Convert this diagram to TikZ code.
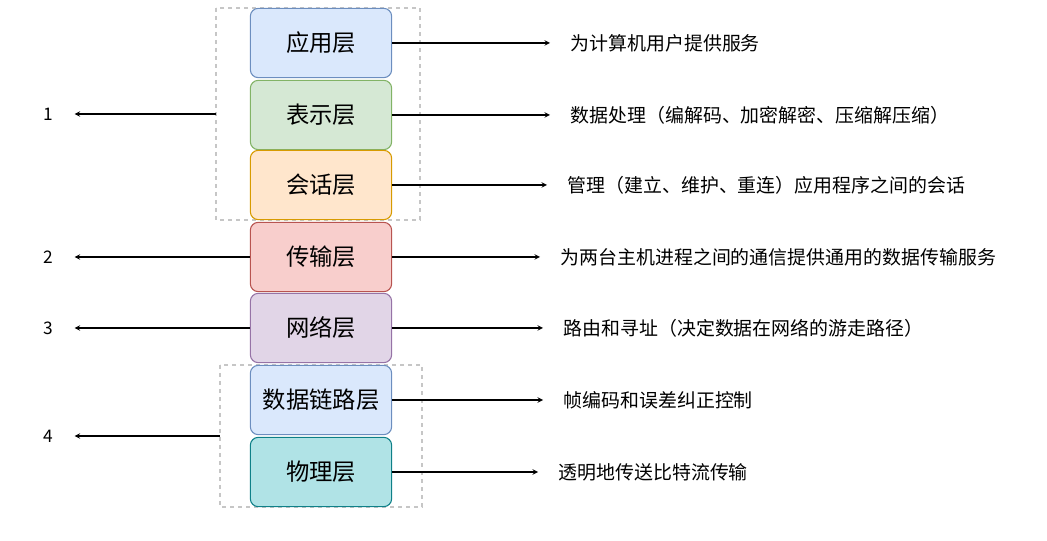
\documentclass[tikz,border=0pt]{standalone}
\usepackage{fontspec}
\setmainfont{Noto Sans CJK SC}
\usetikzlibrary{positioning}
\definecolor{bluef}{HTML}{DAE8FC}\definecolor{blued}{HTML}{6C8EBF}
\definecolor{greenf}{HTML}{D5E8D4}\definecolor{greend}{HTML}{82B366}
\definecolor{orangef}{HTML}{FFE6CC}\definecolor{oranged}{HTML}{D79B00}
\definecolor{redf}{HTML}{F8CECC}\definecolor{redd}{HTML}{B85450}
\definecolor{purplef}{HTML}{E1D5E7}\definecolor{purpled}{HTML}{9673A6}
\definecolor{tealf}{HTML}{B0E3E6}\definecolor{teald}{HTML}{0E8088}
\tikzset{
  layer/.style={draw, rounded corners=6pt, minimum width=106pt, minimum height=52pt, font=\fontsize{17.5}{19}\selectfont, inner sep=1pt},
  group/.style={draw=gray!45, dashed, line width=1.4pt},
  desc/.style={anchor=west, font=\fontsize{14.2}{16}\selectfont, inner sep=0pt},
  num/.style={font=\fontsize{13}{15}\selectfont, inner sep=0pt}
}
\begin{document}
\begin{tikzpicture}[x=0.75pt, y=-0.75pt, ->, >=stealth, thick]
\useasboundingbox (0,0) rectangle (1047,541);
% 分组
\draw[group, -] (216,8) rectangle (420,220);
\draw[group, -] (220,365) rectangle (422,507);
% 各层
\node[layer, fill=bluef, draw=blued] (app) at (321,43) {应用层};
\node[layer, fill=greenf, draw=greend] (pre) at (321,115) {表示层};
\node[layer, fill=orangef, draw=oranged] (ses) at (321,185) {会话层};
\node[layer, fill=redf, draw=redd] (tra) at (321,257) {传输层};
\node[layer, fill=purplef, draw=purpled] (net) at (321,328) {网络层};
\node[layer, fill=bluef, draw=blued] (dat) at (321,400) {数据链路层};
\node[layer, fill=tealf, draw=teald] (phy) at (321,472) {物理层};
% 说明
\node[desc] (d1) at (570,43) {为计算机用户提供服务};
\node[desc] (d2) at (570,115) {数据处理（编解码、加密解密、压缩解压缩）};
\node[desc] (d3) at (567,185) {管理（建立、维护、重连）应用程序之间的会话};
\node[desc] (d4) at (560,257) {为两台主机进程之间的通信提供通用的数据传输服务};
\node[desc] (d5) at (563,328) {路由和寻址（决定数据在网络的游走路径）};
\node[desc] (d6) at (563,400) {帧编码和误差纠正控制};
\node[desc] (d7) at (558,472) {透明地传送比特流传输};
\foreach \a/\b in {app/d1,pre/d2,ses/d3,tra/d4,net/d5,dat/d6,phy/d7}
  \draw (\a.east) -- ([xshift=-15pt]\b.west);
% 编号
\node[num] (n1) at (48,114) {1};
\node[num] (n2) at (48,257) {2};
\node[num] (n3) at (48,328) {3};
\node[num] (n4) at (48,436) {4};
\coordinate (g1) at (216,114);
\coordinate (g2) at (220,436);
\draw (g1) -- ([xshift=20pt]n1.center);
\draw (tra.west) -- ([xshift=20pt]n2.center);
\draw (net.west) -- ([xshift=20pt]n3.center);
\draw (g2) -- ([xshift=20pt]n4.center);
\end{tikzpicture}
\end{document}
